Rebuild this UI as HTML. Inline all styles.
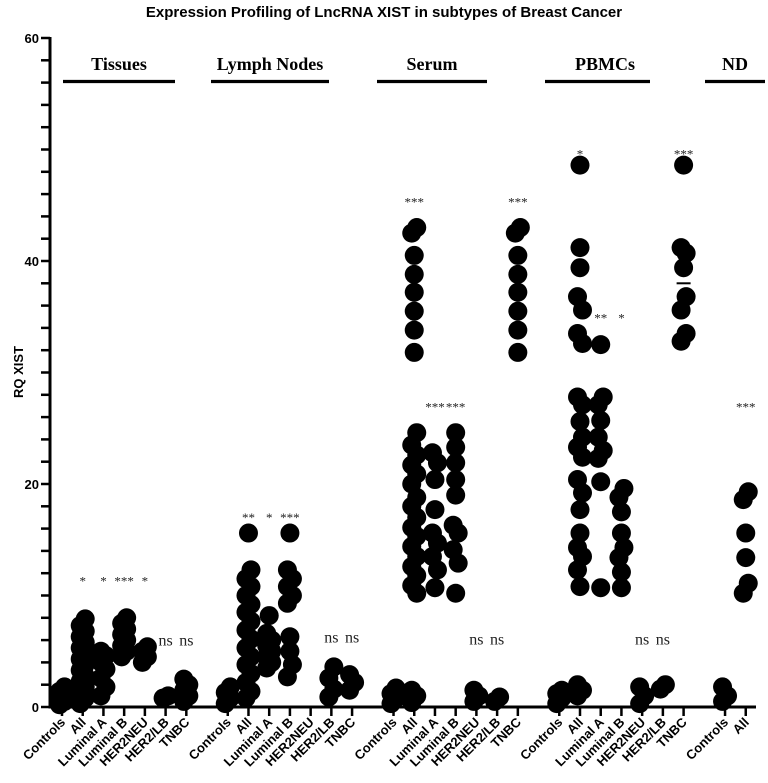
<!DOCTYPE html>
<html><head><meta charset="utf-8"><style>
body{margin:0;background:#fff;}
svg text{font-family:"Liberation Sans",Arial,sans-serif;}
svg text.serif{font-family:"Liberation Serif","Times New Roman",serif;}
</style></head><body>
<svg id="chart" width="768" height="778" viewBox="0 0 768 778" xmlns="http://www.w3.org/2000/svg">
<text x="384" y="17" text-anchor="middle" font-size="15" font-weight="bold">Expression Profiling of LncRNA XIST in subtypes of Breast Cancer</text>
<text transform="translate(23,372) rotate(-90)" text-anchor="middle" font-size="13" font-weight="bold">RQ XIST</text>
<g id="axes"></g><g id="groups"></g><g id="dots"></g><g id="annots"></g>
</svg>
<script>
const categories=["Controls","All","Luminal A","Luminal B","HER2NEU","HER2/LB","TNBC"];
const groupNames=["Tissues","Lymph Nodes","Serum","PBMCs","ND"];
const groupSizes=[7,7,7,7,2];
const yTicks=[0,20,40,60];
const tissues=[
 [0.2,0.5,0.8,1.1,1.4,1.8],
 [0.3,0.8,1.3,1.8,2.3,2.8,3.3,3.8,4.3,4.8,5.3,5.8,6.3,6.8,7.3,7.9],
 [1,1.8,2.6,3.4,4,4.6,5],
 [4.5,5,5.5,6,6.5,7,7.5,8],
 [4,4.5,5,5.4],
 [0.8,1],
 [0.5,1,1.5,2,2.5]];
const lymph=[
 [0.3,0.8,1.3,1.8],
 [0.8,1.4,2.2,3,3.8,4.5,5.3,6.1,6.9,7.7,8.5,9.2,10,10.8,11.5,12.3,15.6],
 [3.5,4,4.5,5,5.5,6,6.6,8.2],
 [2.7,3.8,5,6.3,9.3,10,10.8,11.5,12.3,15.6],
 [],
 [0.9,1.6,2.6,3.6],
 [1.5,2.2,2.9]];
const serum=[
 [0.3,0.8,1.2,1.7],
 [0.4,1,1.5,10.2,10.9,11.8,12.6,13.5,14.4,15.3,16.1,17,18,18.8,20,20.9,21.7,22.6,23.5,24.6,31.8,33.8,35.5,37.2,38.8,40.5,42.5,43],
 [10.7,12.3,13.5,14.7,15.6,17.7,20.4,21.9,22.8],
 [10.2,12.9,14.1,15.6,16.3,19,20.4,21.9,23.3,24.6],
 [0.5,1,1.5],
 [0.5,0.9],
 [31.8,33.8,35.5,37.2,38.8,40.5,42.5,43]];
const pbmc=[
 [0.3,0.8,1.2,1.5],
 [1,1.5,2,10.8,12.3,13.5,14.3,15.6,17.7,19.2,20.4,22.4,23.3,24.2,25.6,27.1,27.8,32.6,33.5,35.6,36.8,39.4,41.2,48.6],
 [10.7,20.2,22.3,23,24.2,25.7,27.1,27.8,32.5],
 [10.7,12.1,13.4,14.3,15.6,17.5,18.8,19.6],
 [0.3,1,1.8],
 [1.6,2],
 [32.8,33.5,35.6,36.8,39.4,40.7,41.2,48.6]];
const nd=[[0.5,1,1.8],[10.2,11.1,13.4,15.6,18.6,19.3]];
const seriesValues=[tissues,lymph,serum,pbmc,nd];
const annotText=[
 ["","*","*","***","*","ns","ns"],
 ["","**","*","***","","ns","ns"],
 ["","***","***","***","ns","ns","***"],
 ["","*","**","*","ns","ns","***"],
 ["","***"]];
const annotValues=[
 [0,11.7,11.7,11.7,11.7,5.5,5.5],
 [0,17.4,17.4,17.4,0,5.8,5.8],
 [0,45.7,27.3,27.3,5.6,5.6,45.7],
 [0,50,35.3,35.3,5.6,5.6,50],
 [0,27.3]];
const pbmcTnbcMean=38;
const NS="http://www.w3.org/2000/svg";
const y0=707,yTop=38,yMax=60;
const bracketL=[63,211,377,545,705],bracketR=[175,329,487,650,765],labelX=[119,270,432,605,735];
function yScale(v){return y0-(v/yMax)*(y0-yTop);}
function xScale(idx){return 62+idx*20.72;}
function mk(tag,attrs,parent){const e=document.createElementNS(NS,tag);for(const k in attrs)e.setAttribute(k,attrs[k]);parent.appendChild(e);return e;}
const axes=document.getElementById('axes');
let a=mk('line',{x1:50,y1:yTop-1,x2:50,y2:y0+1.5,stroke:'#000','stroke-width':3},axes);


a=mk('line',{x1:48.5,y1:y0,x2:756,y2:y0,stroke:'#000','stroke-width':3},axes);


for(let v=0;v<=yMax;v+=2){const t=mk('line',{x1:41,y1:yScale(v),x2:50,y2:yScale(v),stroke:'#000','stroke-width':2.5},axes);

}
yTicks.forEach(v=>{const t=mk('text',{x:39,y:yScale(v)+5,'text-anchor':'end','font-size':13,'font-weight':'bold'},axes);t.textContent=v;

});
const groupsG=document.getElementById('groups'),dotsG=document.getElementById('dots'),annG=document.getElementById('annots');
let start=0;
groupNames.forEach((gn,gi)=>{
 const n=groupSizes[gi];
 const l=mk('line',{x1:bracketL[gi],y1:81.5,x2:bracketR[gi],y2:81.5,stroke:'#000','stroke-width':3.2},groupsG);
 
 
 const t=mk('text',{x:labelX[gi],y:70,'text-anchor':'middle','font-size':18,'font-weight':'bold','class':'serif'},groupsG);
 t.textContent=gn;
 
 
 for(let c=0;c<n;c++){
  const idx=start+c,x=xScale(idx);
  const tk=mk('line',{x1:x,y1:y0,x2:x,y2:y0+9,stroke:'#000','stroke-width':2.5},axes);
  
  
  const lb=mk('text',{transform:`translate(${x+4},${y0+16}) rotate(-45)`,'text-anchor':'end','font-size':13,'font-weight':'bold'},axes);
  lb.textContent=categories[c];
  
  
  const vals=seriesValues[gi][c];
  vals.forEach((v,k)=>{
   const near=vals.filter(w=>Math.abs(w-v)<1.2).length;
   const off=near>1?((k%2)?2.5:-2.5):0;
   const d=mk('circle',{cx:x+off,cy:yScale(v),r:9.5,fill:'#000'},dotsG);
   
   
  });
  const at=annotText[gi][c];
  if(at){
   const ns=at==='ns';
   const t2=mk('text',{x:x,y:yScale(annotValues[gi][c])+(ns?0:9),'text-anchor':'middle','font-size':ns?16:13,'class':'serif',fill:'#222'},annG);
   t2.textContent=at;
   
   
  }
 }
 start+=n+1;
});
const mx=xScale(30);
const m=mk('line',{x1:mx-7,y1:yScale(pbmcTnbcMean),x2:mx+7,y2:yScale(pbmcTnbcMean),stroke:'#000','stroke-width':2},dotsG);


</script>
</body></html>
